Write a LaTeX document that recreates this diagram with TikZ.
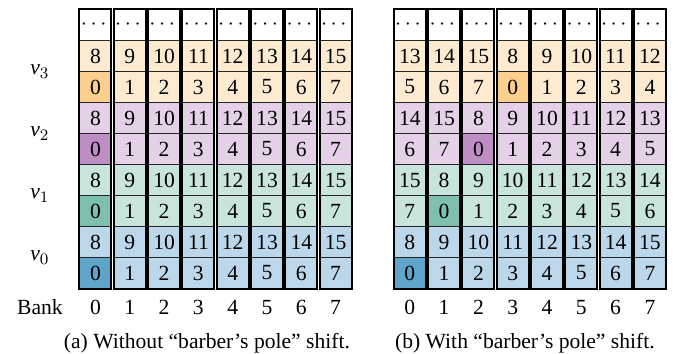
\documentclass[tikz,border=0pt]{standalone}
\usepackage{fontspec}
\setmainfont{Liberation Serif}
\usepackage{amsmath}
\usetikzlibrary{positioning}

\definecolor{orgL}{HTML}{FDEBD1}
\definecolor{orgD}{HTML}{FBCF8D}
\definecolor{purL}{HTML}{E4D1E7}
\definecolor{purD}{HTML}{BD8DC3}
\definecolor{grnL}{HTML}{C9E4DD}
\definecolor{grnD}{HTML}{7FBFAF}
\definecolor{bluL}{HTML}{BDD7EA}
\definecolor{bluD}{HTML}{5FA4C9}

\tikzset{
  cell/.style={draw=black!85, line width=0.5pt, minimum width=15.5pt, minimum height=15.5pt, inner sep=0pt},
  colbox/.style={draw=black, line width=1pt},
}

\begin{document}
\begin{tikzpicture}[x=17.15pt,y=15.5pt,font=\fontsize{10.8}{13}\selectfont]
\useasboundingbox (-2.784,-2.613) rectangle (17.128,8.806);

% left: without shift, right: with shift
\foreach \v/\lt/\dk in {0/bluL/bluD,1/grnL/grnD,2/purL/purD,3/orgL/orgD} {
  \foreach \c in {0,...,7} {
    \pgfmathtruncatemacro{\rlo}{2*\v}
    \pgfmathtruncatemacro{\rhi}{2*\v+1}
    \pgfmathtruncatemacro{\hi}{\c+8}
    \def\fc{\lt}\ifnum\c=0 \def\fc{\dk}\fi
    \node[cell,fill=\fc] (a-\c-\rlo) at (\c,\rlo) {\c};
    \node[cell,fill=\lt] (a-\c-\rhi) at (\c,\rhi) {\hi};
    \pgfmathtruncatemacro{\s}{mod(\c-\v+8,8)}
    \pgfmathtruncatemacro{\shi}{\s+8}
    \def\fc{\lt}\ifnum\s=0 \def\fc{\dk}\fi
    \node[cell,fill=\fc] (b-\c-\rlo) at (9.163+\c,\rlo) {\s};
    \node[cell,fill=\lt] (b-\c-\rhi) at (9.163+\c,\rhi) {\shi};
  }
  \node (v\v) at (-1.62,2*\v+0.5) {$\mathit{v}_{\v}$};
}

\foreach \c in {0,...,7} {
  \node[cell] (a-\c-8) at (\c,8) {$\cdots$};
  \node[cell] (b-\c-8) at (9.163+\c,8) {$\cdots$};
  \path[draw][colbox] (a-\c-0.south west) rectangle (a-\c-8.north east);
  \path[draw][colbox] (b-\c-0.south west) rectangle (b-\c-8.north east);
  \node (an-\c) at (\c,-1.1) {\c};
  \node (bn-\c) at (9.163+\c,-1.1) {\c};
}
\node (bank) at (-1.62,-1.1) {Bank};

\node (capa) at (3.25,-2.26) {(a) Without ``barber's pole'' shift.};
\node (capb) at (12.52,-2.26) {(b) With ``barber's pole'' shift.};
\end{tikzpicture}
\end{document}
